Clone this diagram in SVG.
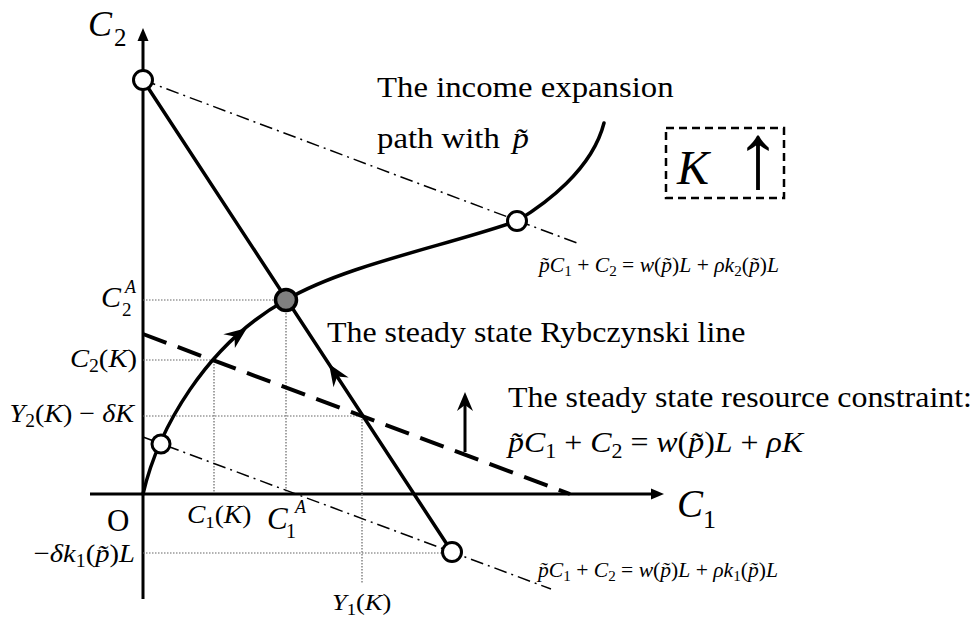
<svg xmlns="http://www.w3.org/2000/svg" width="975" height="621" viewBox="0 0 975 621">
<style>
.ax{stroke:#000;stroke-width:3;fill:none}
.thick{stroke:#000;stroke-width:3.5;fill:none;stroke-linecap:round}
.dash{stroke:#000;stroke-width:4;fill:none;stroke-dasharray:25 12}
.dd{stroke:#000;stroke-width:1.5;fill:none;stroke-dasharray:13 5 2 5}
.dot{stroke:#666;stroke-width:1.2;fill:none;stroke-dasharray:1.5 1.5}
.open{fill:#fff;stroke:#000;stroke-width:3}
.eq{fill:#808080;stroke:#000;stroke-width:3.5}
.ah{fill:#000;stroke:none}
.box{fill:none;stroke:#000;stroke-width:2.5;stroke-dasharray:8 5}
text{font-family:"Liberation Serif","DejaVu Serif",serif;fill:#000}
.i{font-style:italic}
</style>
<rect width="975" height="621" fill="#fff"/>

<g id="axes">
  <line class="ax" x1="143" y1="40" x2="143" y2="599"/>
  <polygon class="ah" points="143,28 137.5,41 148.5,41"/>
  <line class="ax" x1="90" y1="494" x2="652" y2="494"/>
  <polygon class="ah" points="664,494 651,488.5 651,499.5"/>
</g>

<g id="guides">
  <polyline class="dot" points="143,300 286,300 286,492"/>
  <polyline class="dot" points="143,360 214,360 214,493"/>
  <polyline class="dot" points="143,416 362,416 362,584"/>
  <line class="dot" x1="143" y1="553" x2="450" y2="553"/>
</g>

<g id="connectors">
  <line class="dd" x1="143" y1="80" x2="577" y2="243"/>
  <line class="dd" x1="143" y1="437" x2="551" y2="589"/>
  <line class="dash" x1="143" y1="334" x2="570" y2="494"/>
  <line class="thick" x1="143" y1="80" x2="452" y2="552"/>
  <path class="thick" d="M143,494 C158,430 205,345 286,300 C345,265 450,245 517,221 C545,204 592,170 604,123"/>
  <polygon class="ah" points="247,328 234.9,348 234.5,336.6 223.3,334.2"/>
  <polygon class="ah" points="329,364 348.6,377.5 337.2,376.6 333.5,387.3"/>
  <line class="ax" x1="465" y1="452" x2="465" y2="404"/>
  <polygon class="ah" points="465,392 473,411 465,405 457,411"/>
</g>

<g id="node-top"><circle class="open" cx="143" cy="80" r="9.5"/></g>
<g id="node-low"><circle class="open" cx="161" cy="444" r="9"/></g>
<g id="node-steady"><circle class="eq" cx="286" cy="300" r="10.5"/></g>
<g id="node-right"><circle class="open" cx="517" cy="221" r="9.5"/></g>
<g id="node-bottom"><circle class="open" cx="452" cy="552" r="9.5"/></g>

<g id="kbox">
  <rect class="box" x="666" y="128" width="118" height="70"/>
  <text class="i" x="677" y="184" font-size="48">K</text>
  <text x="758" y="187" font-size="92" text-anchor="middle">↑</text>
</g>

<g id="labels">
  <text><tspan class="i" x="88" y="36" font-size="36">C</tspan><tspan x="114" y="46" font-size="25">2</tspan></text>
  <text><tspan class="i" x="677" y="517" font-size="39">C</tspan><tspan x="703" y="528" font-size="26">1</tspan></text>

  <text transform="translate(377,97) scale(1.13,1)" font-size="29">The income expansion</text>
  <text transform="translate(377,148) scale(1.13,1)" font-size="29">path with <tspan class="i" x="120">p̃</tspan></text>
  <text transform="translate(327,342) scale(1.1,1)" font-size="29">The steady state Rybczynski line</text>
  <text transform="translate(508,407) scale(1.1,1)" font-size="29">The steady state resource constraint:</text>
  <text transform="translate(508,452) scale(1.1,1)" font-size="29"><tspan class="i">p̃C</tspan><tspan font-size="20" dy="6">1</tspan><tspan dy="-6"> + </tspan><tspan class="i">C</tspan><tspan font-size="20" dy="6">2</tspan><tspan dy="-6"> = </tspan><tspan class="i">w</tspan>(<tspan class="i">p̃</tspan>)<tspan class="i">L</tspan> + <tspan class="i">ρK</tspan></text>

  <text transform="translate(539,272) scale(1.08,1)" font-size="20"><tspan class="i">p̃C</tspan><tspan font-size="14" dy="4">1</tspan><tspan dy="-4"> + </tspan><tspan class="i">C</tspan><tspan font-size="14" dy="4">2</tspan><tspan dy="-4"> = </tspan><tspan class="i">w</tspan>(<tspan class="i">p̃</tspan>)<tspan class="i">L</tspan> + <tspan class="i">ρk</tspan><tspan font-size="14" dy="4">2</tspan><tspan dy="-4">(</tspan><tspan class="i">p̃</tspan>)<tspan class="i">L</tspan></text>
  <text transform="translate(538,577) scale(1.08,1)" font-size="20"><tspan class="i">p̃C</tspan><tspan font-size="14" dy="4">1</tspan><tspan dy="-4"> + </tspan><tspan class="i">C</tspan><tspan font-size="14" dy="4">2</tspan><tspan dy="-4"> = </tspan><tspan class="i">w</tspan>(<tspan class="i">p̃</tspan>)<tspan class="i">L</tspan> + <tspan class="i">ρk</tspan><tspan font-size="14" dy="4">1</tspan><tspan dy="-4">(</tspan><tspan class="i">p̃</tspan>)<tspan class="i">L</tspan></text>

  <text><tspan class="i" x="101" y="307" font-size="30">C</tspan><tspan x="122" y="316" font-size="19">2</tspan><tspan class="i" x="125" y="293" font-size="18">A</tspan></text>
  <text transform="translate(137,367) scale(1.1,1)" font-size="26" text-anchor="end"><tspan class="i">C</tspan><tspan font-size="18" dy="5">2</tspan><tspan dy="-5">(</tspan><tspan class="i">K</tspan>)</text>
  <text transform="translate(134,422) scale(1.08,1)" font-size="26" text-anchor="end"><tspan class="i">Y</tspan><tspan font-size="18" dy="5">2</tspan><tspan dy="-5">(</tspan><tspan class="i">K</tspan>) − <tspan class="i">δK</tspan></text>
  <text x="107" y="531" font-size="31">O</text>
  <text transform="translate(135,562) scale(1.1,1)" font-size="26" text-anchor="end">−<tspan class="i">δk</tspan><tspan font-size="18" dy="5">1</tspan><tspan dy="-5">(</tspan><tspan class="i">p̃</tspan>)<tspan class="i">L</tspan></text>
  <text transform="translate(187,523) scale(1.1,1)" font-size="25"><tspan class="i">C</tspan><tspan font-size="17" dy="5">1</tspan><tspan dy="-5">(</tspan><tspan class="i">K</tspan>)</text>
  <text><tspan class="i" x="267" y="529" font-size="31">C</tspan><tspan x="286" y="538" font-size="20">1</tspan><tspan class="i" x="295" y="513" font-size="18">A</tspan></text>
  <text transform="translate(332,610) scale(1.1,1)" font-size="24"><tspan class="i">Y</tspan><tspan font-size="17" dy="5">1</tspan><tspan dy="-5">(</tspan><tspan class="i">K</tspan>)</text>
</g>
</svg>
